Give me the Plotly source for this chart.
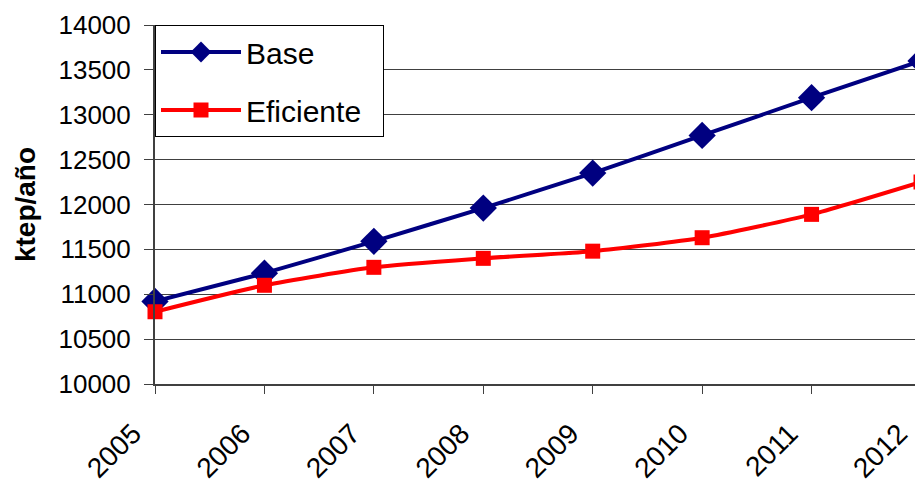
import plotly.graph_objects as go

years = [2005, 2006, 2007, 2008, 2009, 2010, 2011, 2012]
base = [10920, 11235, 11590, 11960, 12350, 12770, 13190, 13600]
eficiente = [10805, 11100, 11300, 11400, 11480, 11630, 11890, 12250]
y_ticks = list(range(10000, 14001, 500))
series_names = ["Base", "Eficiente"]

FONT = "Liberation Sans, Arial, sans-serif"
NB = "\u00a0" * 4

fig = go.Figure()
fig.add_trace(go.Scatter(
    x=years, y=base, name=series_names[0], mode="lines+markers",
    line=dict(color="#000080", width=4, shape="spline", smoothing=0.3),
    marker=dict(symbol="diamond", size=21, color="#000080"),
    cliponaxis=False, legendgroup="a"))
fig.add_trace(go.Scatter(
    x=years, y=eficiente, name=series_names[1] + "\u00a0\u00a0", mode="lines+markers",
    line=dict(color="#FF0000", width=4, shape="spline", smoothing=0.6),
    marker=dict(symbol="square", size=15, color="#FF0000"),
    cliponaxis=False, legendgroup="b"))

# the chart is a crop: the last year sits just past the right edge of the window
fig.update_layout(
    width=922, height=481,
    margin=dict(l=155, r=1, t=25, b=97, autoexpand=False),
    paper_bgcolor="white", plot_bgcolor="white",
    font=dict(family=FONT, size=26, color="black"),
    showlegend=True,
    legend=dict(x=0, y=1, xanchor="left", yanchor="top",
                bgcolor="white", bordercolor="black", borderwidth=1,
                font=dict(size=30), itemwidth=80, tracegroupgap=16,
                traceorder="grouped"),
    xaxis=dict(range=[2005, 2012], tickvals=years, ticktext=[str(y) + NB for y in years],
               tickangle=-45, showgrid=False, zeroline=False, automargin=False,
               showline=True, linecolor="#404040", linewidth=2,
               ticks="outside", ticklen=8, tickcolor="#404040",
               ticklabelstandoff=-10, ticklabeloverflow="allow",
               tickfont=dict(size=28)),
    yaxis=dict(range=[10000, 14000], tickvals=y_ticks, tickformat="d",
               showgrid=True, gridcolor="#404040", gridwidth=1, zeroline=False,
               automargin=False,
               showline=True, linecolor="#404040", linewidth=2,
               ticks="outside", ticklen=9, tickcolor="#404040",
               ticklabelstandoff=8,
               tickfont=dict(size=26),
               title=dict(text="<b>ktep/año</b>", font=dict(size=28), standoff=15)),
)

fig.write_html("out.html", config={"displayModeBar": False},
               post_script="document.body.style.margin='0';document.body.style.overflow='hidden';")
